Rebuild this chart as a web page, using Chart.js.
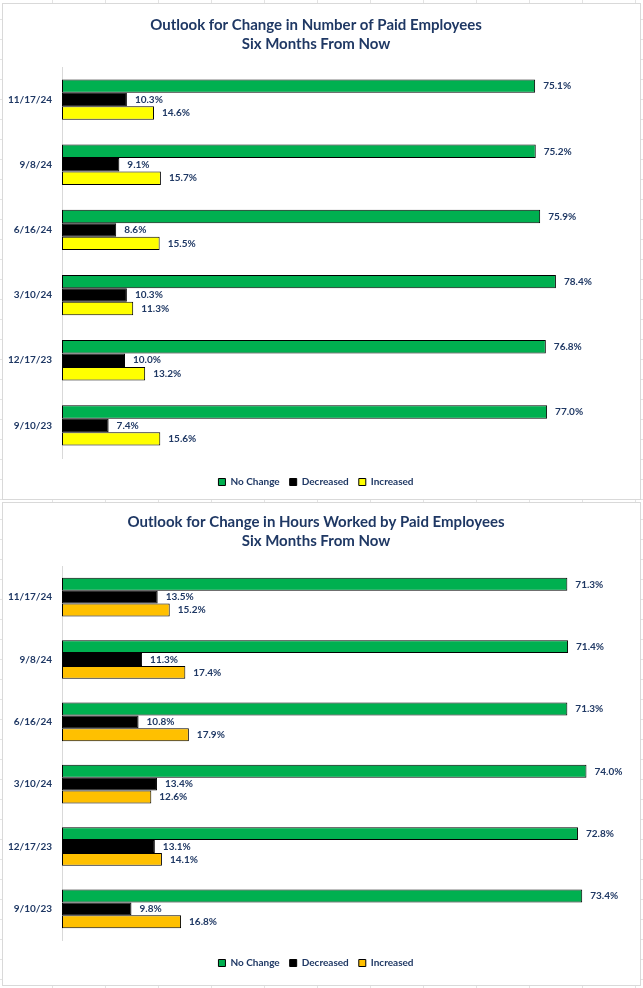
<!DOCTYPE html>
<html>
<head>
<meta charset="utf-8">
<script src="https://cdn.jsdelivr.net/npm/chart.js@4"></script>
<style>
    body {
        margin: 0; width: 643px; height: 988px; position: relative; overflow: hidden;
        background-color: #ffffff;
        background-image:
            repeating-linear-gradient(to right, transparent 0, transparent 52px, #e3e3e3 52px, #e3e3e3 53px),
            repeating-linear-gradient(to bottom, transparent 0, transparent 19px, #e3e3e3 19px, #e3e3e3 20px);
    }
    .box { position: absolute; left: 2px; width: 639px; border: 1px solid #d9d9d9; box-sizing: border-box; background: #fff; }
    #box1 { top: 3px; height: 497px; }
    #box2 { top: 502px; height: 484px; }
</style>
</head>
<body>
<div class="box" id="box1"><canvas id="chart1"></canvas></div>
<div class="box" id="box2"><canvas id="chart2"></canvas></div>
<script>
// Categories (top to bottom)
const dates = ['11/17/24', '9/8/24', '6/16/24', '3/10/24', '12/17/23', '9/10/23'];
const seriesNames = ['No Change', 'Decreased', 'Increased'];

// Chart 1 - number of paid employees
const empTitle = ['Outlook for Change in Number of Paid Employees', 'Six Months From Now'];
const empNoChange = [75.1, 75.2, 75.9, 78.4, 76.8, 77.0];
const empDecreased = [10.3, 9.1, 8.6, 10.3, 10.0, 7.4];
const empIncreased = [14.6, 15.7, 15.5, 11.3, 13.2, 15.6];

// Chart 2 - hours worked
const hrsTitle = ['Outlook for Change in Hours Worked by Paid Employees', 'Six Months From Now'];
const hrsNoChange = [71.3, 71.4, 71.3, 74.0, 72.8, 73.4];
const hrsDecreased = [13.5, 11.3, 10.8, 13.4, 13.1, 9.8];
const hrsIncreased = [15.2, 17.4, 17.9, 12.6, 14.1, 16.8];

const navy = '#1F3864';
const fontFamily = 'Lato, "Liberation Sans", sans-serif';

// Value labels at the end of each bar
const valueLabels = {
    id: 'valueLabels',
    afterDatasetsDraw(chart) {
        const ctx = chart.ctx;
        ctx.save();
        ctx.font = 'bold 10px ' + fontFamily;
        ctx.fillStyle = navy;
        ctx.textAlign = 'left';
        ctx.textBaseline = 'middle';
        chart.data.datasets.forEach((ds, i) => {
            chart.getDatasetMeta(i).data.forEach((bar, j) => {
                ctx.fillText(ds.data[j].toFixed(1) + '%', bar.x + 8, bar.y);
            });
        });
        ctx.restore();
    }
};

// Nudge the legend down a little after layout
const legendShift = {
    id: 'legendShift',
    afterLayout(chart, args, opts) {
        chart.legend.top += opts.dy;
        chart.legend.bottom += opts.dy;
    }
};

function makeChart(id, title, noChange, decreased, increased, incColor, xMax, lay) {
    const ctx = document.getElementById(id).getContext('2d');
    return new Chart(ctx, {
        type: 'bar',
        data: {
            labels: dates,
            datasets: [
                { label: seriesNames[0], data: noChange, backgroundColor: '#00B050' },
                { label: seriesNames[1], data: decreased, backgroundColor: '#000000' },
                { label: seriesNames[2], data: increased, backgroundColor: incColor }
            ].map(d => Object.assign(d, {
                borderColor: '#000000',
                borderWidth: 1,
                borderSkipped: false,
                categoryPercentage: 0.62,
                barPercentage: 1
            }))
        },
        options: {
            indexAxis: 'y',
            responsive: true,
            maintainAspectRatio: false,
            animation: false,
            layout: { padding: { left: 0, right: 11, top: 0, bottom: lay.bottom } },
            plugins: {
                title: {
                    display: true,
                    text: title,
                    color: navy,
                    font: { family: fontFamily, size: 15, weight: 'bold', lineHeight: 1.3 },
                    padding: { top: lay.titleTop, bottom: lay.titleBottom }
                },
                legendShift: { dy: lay.legendDy },
                legend: {
                    position: 'bottom',
                    labels: {
                        color: navy,
                        font: { family: fontFamily, size: 10, weight: 'bold' },
                        boxWidth: 7,
                        boxHeight: 7,
                        padding: 10
                    }
                },
                tooltip: { enabled: false }
            },
            scales: {
                x: { display: false, min: 0, max: xMax },
                y: {
                    afterFit(scale) { scale.width = 59; },
                    grid: { display: false },
                    border: { color: '#d9d9d9' },
                    ticks: {
                        color: navy,
                        padding: 2,
                        font: { family: fontFamily, size: 10, weight: 'bold' }
                    }
                }
            }
        },
        plugins: [valueLabels, legendShift]
    });
}

makeChart('chart1', empTitle, empNoChange, empDecreased, empIncreased, '#FFFF00', 90,
    { titleTop: 11, titleBottom: 13, bottom: 11, legendDy: 9 });
makeChart('chart2', hrsTitle, hrsNoChange, hrsDecreased, hrsIncreased, '#FFC000', 80,
    { titleTop: 9, titleBottom: 15, bottom: 15, legendDy: 8 });
</script>
</body>
</html>
